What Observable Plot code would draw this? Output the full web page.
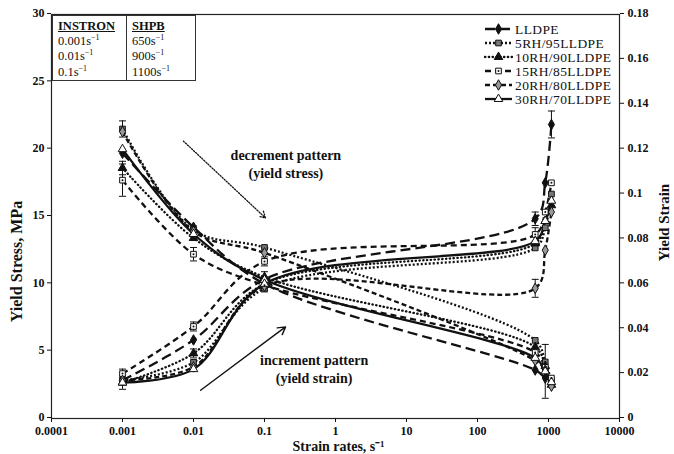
<!DOCTYPE html>
<html><head><meta charset="utf-8">
<script src="https://cdn.jsdelivr.net/npm/d3@7"></script>
<script src="https://cdn.jsdelivr.net/npm/@observablehq/plot@0.6"></script>
<style>
body{margin:0;background:#fff;}
#wrap{position:relative;width:674px;height:454px;}
#tbl{position:absolute;left:52px;top:15px;width:144px;height:66px;border-collapse:collapse;font-family:"Liberation Serif",serif;font-size:12.5px;color:#111;border:1px solid #333;background:#fff;}
#tbl td{padding:0 0 0 5px;height:15px;line-height:15px;vertical-align:middle;white-space:nowrap;}
#tbl td.c1{border-right:1px solid #333;width:68px;}
#tbl th{text-align:left;padding:3px 0 0 5px;font-weight:bold;text-decoration:underline;height:14px;line-height:14px;}
#tbl th.c1{border-right:1px solid #333;}
#tbl sup{font-size:8px;line-height:0;}
</style>
</head><body>
<div id="wrap"></div>
<script>
// ---------- data ----------
const rates = [0.001, 0.01, 0.1, 650, 900, 1100];
const seriesNames = ["LLDPE", "5RH/95LLDPE", "10RH/90LLDPE", "15RH/85LLDPE", "20RH/80LLDPE", "30RH/70LLDPE"];

const stressLLDPE = [19.7, 14.2, 10.0, 3.6, 3.0, 2.6];
const stress5RH   = [21.5, 14.0, 12.7, 5.8, 4.2, 2.8];
const stress10RH  = [18.6, 13.4, 10.5, 5.3, 3.9, 2.5];
const stress15RH  = [17.7, 12.2, 9.9, 4.9, 3.8, 3.0];
const stress20RH  = [21.3, 13.9, 12.3, 4.3, 3.6, 2.4];
const stress30RH  = [20.0, 13.7, 10.3, 4.5, 3.5, 2.7];

const strainLLDPE = [0.017, 0.035, 0.062, 0.089, 0.105, 0.131];
const strain5RH   = [0.017, 0.025, 0.058, 0.076, 0.085, 0.100];
const strain10RH  = [0.016, 0.029, 0.060, 0.078, 0.088, 0.095];
const strain15RH  = [0.020, 0.041, 0.070, 0.082, 0.092, 0.105];
const strain20RH  = [0.017, 0.023, 0.059, 0.058, 0.075, 0.092];
const strain30RH  = [0.016, 0.022, 0.060, 0.079, 0.088, 0.097];

const stressErrLLDPE = [0, 0, 0, 0, 0, 0];
const stressErr5RH   = [0.6, 0, 0, 0, 0, 0];
const stressErr10RH  = [0.5, 0, 0, 0, 0, 0];
const stressErr15RH  = [1.2, 0.5, 0.5, 0, 0, 0];
const stressErr20RH  = [0, 0.4, 0, 0, 0, 0];
const stressErr30RH  = [0, 0, 0.6, 0, 2.0, 0];

const strainErrLLDPE = [0.002, 0, 0, 0.003, 0, 0.006];
const strainErr5RH   = [0, 0, 0, 0, 0, 0];
const strainErr10RH  = [0, 0.002, 0, 0, 0, 0];
const strainErr15RH  = [0.002, 0.002, 0.002, 0.003, 0, 0];
const strainErr20RH  = [0, 0, 0, 0.004, 0, 0];
const strainErr30RH  = [0.003, 0, 0.003, 0, 0, 0];

const xTicks = [1e-4, 1e-3, 1e-2, 1e-1, 1, 10, 100, 1000, 10000];
const stressTicks = [0, 5, 10, 15, 20, 25, 30];
const strainTicks = [0, 0.02, 0.04, 0.06, 0.08, 0.1, 0.12, 0.14, 0.16, 0.18];

const tableHeaders = ["INSTRON", "SHPB"];
const instronRates = ["0.001", "0.01", "0.1"];
const shpbRates = ["650", "900", "1100"];

const noteText = ["decrement pattern", "(yield stress)", "increment pattern", "(yield strain)"];
const noteX = [0.2, 0.2, 0.5, 0.5];
const noteY = [19.5, 18.2, 4.3, 3.0];
const arrowX1 = [0.0072, 0.0126], arrowY1 = [20.6, 2.1];
const arrowX2 = [0.103, 0.198], arrowY2 = [14.9, 6.8];

// ---------- build ----------
const k = 30 / 0.18; // strain -> stress-axis units
const styles = [
  {dash: "10,5", cap: "butt", symbol: "diamond", fill: "#111", dot: false},
  {dash: "2,2", cap: "butt", symbol: "square", fill: "#777", dot: false},
  {dash: "0.4,3.4", cap: "round", symbol: "triangle", fill: "#111", dot: false},
  {dash: "6,4", cap: "butt", symbol: "square", fill: "#fff", dot: true},
  {dash: "5,3", cap: "butt", symbol: "diamond", fill: "#999", dot: false},
  {dash: null, cap: "butt", symbol: "triangle", fill: "#fff", dot: false}
];
const stressArr = [stressLLDPE, stress5RH, stress10RH, stress15RH, stress20RH, stress30RH];
const strainArr = [strainLLDPE, strain5RH, strain10RH, strain15RH, strain20RH, strain30RH];
const stressErrArr = [stressErrLLDPE, stressErr5RH, stressErr10RH, stressErr15RH, stressErr20RH, stressErr30RH];
const strainErrArr = [strainErrLLDPE, strainErr5RH, strainErr10RH, strainErr15RH, strainErr20RH, strainErr30RH];

const rows = [];
seriesNames.forEach((name, si) => {
  rates.forEach((r, i) => {
    rows.push({series: name, si, kind: "stress", rate: r, y: stressArr[si][i], err: stressErrArr[si][i]});
    rows.push({series: name, si, kind: "strain", rate: r, y: strainArr[si][i] * k, err: strainErrArr[si][i] * k});
  });
});
const errRows = rows.filter(d => d.err > 0);

const capSymbol = {draw(ctx) { ctx.moveTo(-3.5, 0); ctx.lineTo(3.5, 0); }};

const lineMarks = seriesNames.map((name, si) => Plot.line(rows.filter(d => d.si === si), {
  x: "rate", y: "y", z: "kind", curve: "catmull-rom",
  stroke: "#111", strokeWidth: 2.3, strokeDasharray: styles[si].dash, strokeLinecap: styles[si].cap
}));
const dotMarks = seriesNames.map((name, si) => Plot.dot(rows.filter(d => d.si === si), {
  x: "rate", y: "y", symbol: styles[si].symbol, r: 3.2,
  fill: styles[si].fill, stroke: "#111", strokeWidth: 1
}));
const innerDots = seriesNames.map((name, si) => styles[si].dot ? Plot.dot(rows.filter(d => d.si === si), {
  x: "rate", y: "y", r: 1, fill: "#111", stroke: "none"
}) : null).filter(Boolean);

const fmtX = d => { const e = Math.round(Math.log10(d)); return e < 0 ? d.toFixed(-e) : String(Math.round(d)); };

const plot = Plot.plot({
  width: 674, height: 454,
  marginLeft: 51, marginRight: 55, marginTop: 14, marginBottom: 36,
  x: {type: "log", domain: [1e-4, 1e4]},
  y: {domain: [0, 30]},
  style: {fontFamily: "'Liberation Serif', serif", fontSize: "12px", fontWeight: "bold", color: "#111", background: "#fff"},
  marks: [
    Plot.frame({stroke: "#222", strokeWidth: 1.2}),
    Plot.axisX({ticks: xTicks, tickFormat: fmtX, tickSize: 4, tickPadding: 4, label: null}),
    Plot.axisY({ticks: stressTicks, tickSize: 4, tickPadding: 3, label: null, dy: -1}),
    Plot.axisY({anchor: "right", ticks: strainTicks.map(s => s * k), tickFormat: d => String(Math.round(d / k * 100) / 100), tickSize: 4, tickPadding: 4, label: null, dy: -1}),
    Plot.text(["Yield Stress, MPa"], {text: d => d, frameAnchor: "left", dx: -35, dy: 45, rotate: -90, textAnchor: "middle", lineAnchor: "middle", fontSize: 16, fontWeight: "bold"}),
    Plot.text(["Yield Strain"], {text: d => d, frameAnchor: "right", dx: 45, dy: 6, rotate: -90, textAnchor: "middle", lineAnchor: "middle", fontSize: 15, fontWeight: "bold"}),
    Plot.text(["Strain rates, s⁻¹"], {text: d => d, frameAnchor: "bottom", dx: 3, dy: 28, textAnchor: "middle", lineAnchor: "middle", fontSize: 14, fontWeight: "bold"}),
    ...lineMarks,
    Plot.ruleX(errRows, {x: "rate", y1: d => d.y - d.err, y2: d => d.y + d.err, stroke: "#111", strokeWidth: 1}),
    Plot.dot(errRows, {x: "rate", y: d => d.y - d.err, symbol: capSymbol, r: 3, fill: "none", stroke: "#111", strokeWidth: 1}),
    Plot.dot(errRows, {x: "rate", y: d => d.y + d.err, symbol: capSymbol, r: 3, fill: "none", stroke: "#111", strokeWidth: 1}),
    ...dotMarks,
    ...innerDots,
    Plot.text(noteText, {x: (d, i) => noteX[i], y: (d, i) => noteY[i], text: d => d, fontSize: 14, fontWeight: "bold", textAnchor: "middle"}),
    Plot.arrow([0], {x1: () => arrowX1[0], y1: () => arrowY1[0], x2: () => arrowX2[0], y2: () => arrowY2[0], stroke: "#111", strokeWidth: 1.3, strokeDasharray: "1.2,1.6", headLength: 8}),
    Plot.arrow([1], {x1: () => arrowX1[1], y1: () => arrowY1[1], x2: () => arrowX2[1], y2: () => arrowY2[1], stroke: "#111", strokeWidth: 1.4, headLength: 9})
  ]
});

// ---------- legend ----------
const svg = d3.select(plot);
const lg = svg.append("g").attr("class", "legend").attr("text-anchor", "start");
seriesNames.forEach((name, si) => {
  const y = 29 + 14 * si;
  const st = styles[si];
  lg.append("line").attr("x1", 485).attr("x2", 512).attr("y1", y).attr("y2", y)
    .attr("stroke", "#111").attr("stroke-width", 2.3)
    .attr("stroke-dasharray", st.dash).attr("stroke-linecap", st.cap);
  const symType = st.symbol === "diamond" ? d3.symbolDiamond : st.symbol === "square" ? d3.symbolSquare : d3.symbolTriangle;
  lg.append("path").attr("d", d3.symbol(symType, Math.PI * 3.2 * 3.2)())
    .attr("transform", `translate(498.5,${y})`).attr("fill", st.fill).attr("stroke", "#111").attr("stroke-width", 1);
  if (st.dot) lg.append("circle").attr("cx", 498.5).attr("cy", y).attr("r", 1).attr("fill", "#111");
  lg.append("text").attr("x", 515).attr("y", y + 4.5).text(name)
    .attr("text-anchor", "start")
    .attr("font-family", "'Liberation Serif', serif").attr("font-size", 13.5).attr("font-weight", "normal")
    .attr("letter-spacing", "0.4px").attr("fill", "#111");
});

const wrap = document.getElementById("wrap");
wrap.appendChild(plot);

// ---------- table ----------
const tbl = document.createElement("table");
tbl.id = "tbl";
let html = `<tr><th class="c1">${tableHeaders[0]}</th><th>${tableHeaders[1]}</th></tr>`;
instronRates.forEach((r, i) => {
  html += `<tr><td class="c1">${r}s<sup>−1</sup></td><td>${shpbRates[i]}s<sup>−1</sup></td></tr>`;
});
tbl.innerHTML = html;
wrap.appendChild(tbl);
</script>
</body></html>
